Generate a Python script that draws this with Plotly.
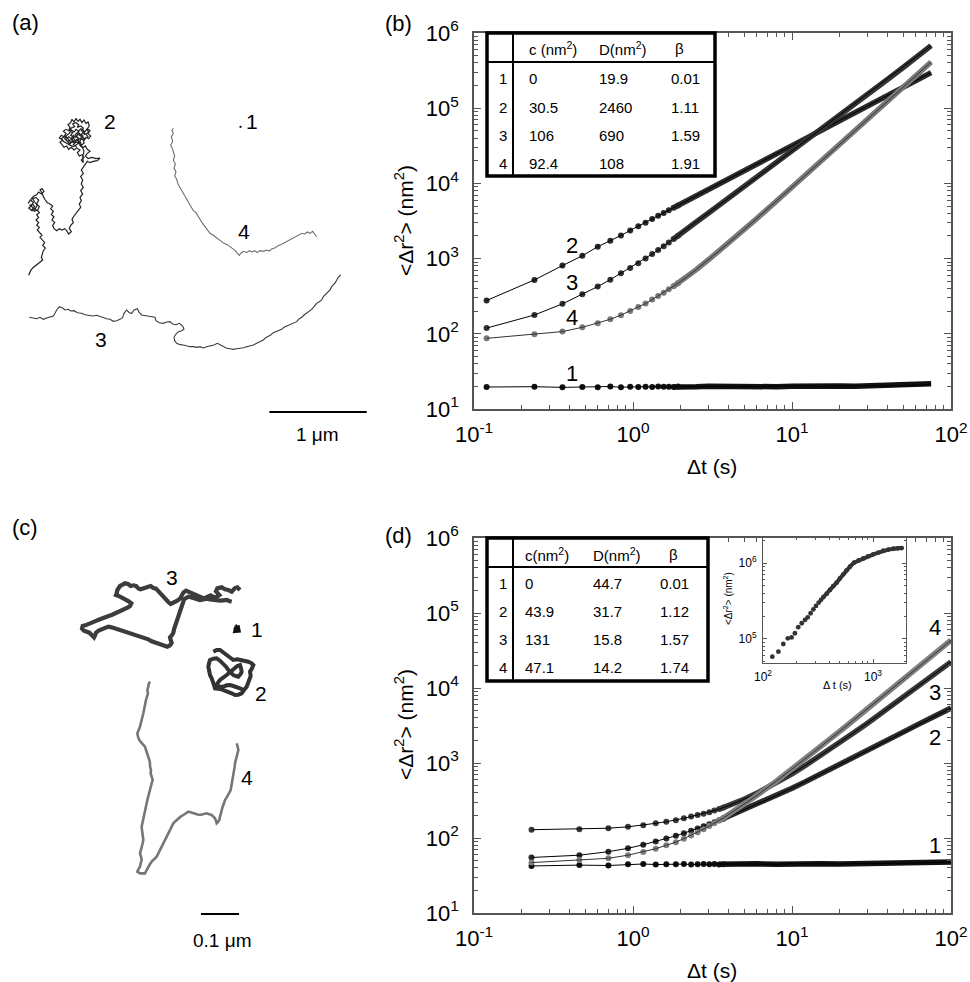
import plotly.graph_objects as go

W, H = 970, 982
FONT = "Liberation Sans, Arial, sans-serif"

# ---------------- panel (b) MSD data ----------------
B_T_SPARSE = [0.12, 0.24, 0.36, 0.48, 0.60, 0.72, 0.84, 0.96, 1.08, 1.20, 1.32, 1.44, 1.56, 1.68, 1.80, 1.92]
B_T_DENSE = [1.8, 2, 2.5, 3, 4, 5, 6, 8, 10, 12, 15, 20, 25, 30, 40, 50, 60, 70, 75]

B1_SPARSE = [19.6, 19.8, 19.4, 19.6, 19.5, 19.9, 19.5, 19.7, 19.6, 19.8, 19.6, 19.9, 19.7, 19.8, 19.6, 19.9]
B1_DENSE = [19.6, 19.9, 19.7, 20.0, 19.8, 19.9, 20.1, 19.8, 20.0, 20.2, 20.0, 20.3, 20.1, 20.4, 20.3, 20.6, 20.8, 21.0, 21.6]
B2_SPARSE = [277, 521, 807, 1090, 1440, 1730, 2030, 2370, 2690, 3000, 3360, 3700, 4050, 4400, 4740, 5100]
B2_DENSE = [4740, 5340, 6830, 8360, 11500, 14700, 18000, 24800, 31700, 38800, 49700, 68400, 87600, 107000, 148000, 189000, 232000, 275000, 297000]
B3_SPARSE = [119, 178, 250, 335, 425, 525, 640, 750, 870, 1000, 1150, 1300, 1460, 1640, 1820, 2010]
B3_DENSE = [1820, 2180, 3070, 4060, 6360, 9020, 12000, 18900, 27000, 36000, 51300, 80900, 115000, 154000, 243000, 347000, 464000, 600000, 680000]
B4_SPARSE = [87, 99, 107, 122, 138, 156, 177, 201, 228, 253, 285, 318, 352, 390, 430, 470]
B4_DENSE = [430, 498, 714, 973, 1617, 2428, 3401, 5824, 8870, 12520, 19130, 33090, 50620, 71600, 124000, 190000, 269000, 361000, 412000]

B_TABLE_COLS = ["c (nm<sup>2</sup>)", "D(nm<sup>2</sup>)", "β"]
B_TABLE_ROWS = [["1", "0", "19.9", "0.01"],
                ["2", "30.5", "2460", "1.11"],
                ["3", "106", "690", "1.59"],
                ["4", "92.4", "108", "1.91"]]

# ---------------- panel (d) MSD data ----------------
D_T_SPARSE = [0.23, 0.46, 0.70, 0.93, 1.16, 1.39, 1.62, 1.86, 2.09, 2.32, 2.55, 2.78, 3.02, 3.25, 3.48, 3.71]
D_T_DENSE = [3.5, 4, 5, 6, 8, 10, 12, 15, 20, 25, 30, 40, 50, 60, 75, 90, 100]

D1_SPARSE = [42.4, 43.5, 43.0, 44.6, 45.0, 44.3, 44.8, 44.5, 44.9, 44.2, 44.7, 45.0, 44.6, 44.9, 44.4, 44.8]
D1_DENSE = [44.8, 45.1, 44.6, 45.2, 44.5, 45.3, 45.0, 45.4, 45.1, 45.6, 45.3, 45.8, 46.0, 46.3, 46.8, 47.2, 48.0]
D2_SPARSE = [55, 59, 65.7, 72.8, 81.3, 89.7, 98.3, 107, 116, 125, 134, 143, 153, 162, 172, 181]
D2_DENSE = [172, 194, 236, 280, 369, 462, 556, 702, 952, 1210, 1474, 2019, 2579, 3153, 4035, 4940, 5400]
D3_SPARSE = [129, 131, 135, 141, 148, 157, 165, 173, 183, 193, 202, 211, 221, 232, 243, 255]
D3_DENSE = [243, 270, 329, 394, 545, 718, 913, 1241, 1874, 2605, 3425, 5307, 7478, 9919, 14011, 18617, 22300]
D4_SPARSE = [47, 51, 53.6, 59, 65, 72, 80, 88, 98, 108, 119, 131, 144, 157, 171, 186]
D4_DENSE = [171, 206, 281, 368, 576, 827, 1119, 1627, 2653, 3891, 5324, 8754, 12884, 17683, 26047, 35750, 43500]

D_TABLE_COLS = ["c(nm<sup>2</sup>)", "D(nm<sup>2</sup>)", "β"]
D_TABLE_ROWS = [["1", "0", "44.7", "0.01"],
                ["2", "43.9", "31.7", "1.12"],
                ["3", "131", "15.8", "1.57"],
                ["4", "47.1", "14.2", "1.74"]]

# inset of (d): long-time MSD
INSET_T = [121.6, 138, 153, 168, 182, 195, 209, 225, 241, 255, 271, 287, 303, 321, 337, 353, 380, 406,
           435, 467, 500, 537, 575, 618, 672, 740, 817, 900, 1007, 1120, 1241, 1380, 1531, 1680, 1823]
INSET_V = [58500, 68100, 85900, 102000, 105000, 119000, 143000, 161000, 178000, 193000, 218000, 246000,
           272000, 301000, 328000, 354000, 395000, 442000, 495000, 551000, 625000, 710000, 800000, 895000,
           1010000, 1080000, 1150000, 1220000, 1300000, 1370000, 1450000, 1500000, 1540000, 1560000, 1570000]

# tick labels
MAIN_X_TICKS = [0.1, 1, 10, 100]
MAIN_X_LABELS = ["10<sup>-1</sup>", "10<sup>0</sup>", "10<sup>1</sup>", "10<sup>2</sup>"]
MAIN_Y_TICKS = [10, 100, 1e3, 1e4, 1e5, 1e6]
MAIN_Y_LABELS = ["10<sup>1</sup>", "10<sup>2</sup>", "10<sup>3</sup>", "10<sup>4</sup>", "10<sup>5</sup>", "10<sup>6</sup>"]
INSET_X_TICKS = [100, 1000]
INSET_X_LABELS = ["10<sup>2</sup>", "10<sup>3</sup>"]
INSET_Y_TICKS = [1e5, 1e6]
INSET_Y_LABELS = ["10<sup>5</sup>", "10<sup>6</sup>"]
MINOR_DIGITS = [2, 3, 4, 5, 6, 7, 8, 9]

# ---------------- trajectories (image pixel positions, y downward) ----------------
NM_PER_PX_A = 1000 / 292.0   # panel (a) calibration
NM_PER_PX_C = 100 / 114.0    # panel (c) calibration
SCALEBAR_A_NM = 1000
SCALEBAR_C_NM = 100

A1 = [(720, 138), (722, 141), (721, 143), (723, 140), (721, 139)]
A2 = [(230, 200), (220, 194), (226, 186), (216, 180), (222, 172), (212, 166), (218, 158), (208, 152), (214, 144),
      (224, 140), (218, 132), (228, 128), (236, 134), (232, 142), (242, 138), (250, 144), (244, 152), (254, 156),
      (260, 148), (266, 156), (258, 162), (264, 170), (254, 176), (246, 170), (240, 178), (232, 172), (226, 164),
      (234, 156), (240, 162), (248, 166), (252, 190), (244, 196), (236, 190), (228, 194), (220, 200), (210, 196),
      (198, 190), (190, 184), (184, 176), (196, 168), (204, 176), (212, 188), (222, 184), (232, 188), (240, 184),
      (246, 200), (252, 214), (248, 230),
      (250, 248), (244, 240), (252, 232), (246, 224), (238, 228), (232, 218), (240, 210), (230, 204), (222, 210),
      (214, 202), (206, 208), (200, 198), (192, 202), (186, 194), (180, 186), (188, 180), (178, 174), (184, 166),
      (192, 170), (198, 160), (190, 154), (198, 148), (206, 152), (210, 142), (204, 134), (212, 128), (216, 118),
      (222, 126), (228, 116), (234, 124), (240, 118), (246, 128), (252, 120), (258, 130), (264, 126), (268, 138),
      (262, 146), (270, 152), (264, 160), (272, 168), (266, 176), (258, 172), (252, 182), (244, 176), (238, 186),
      (230, 180), (224, 190), (216, 184), (210, 192), (204, 186), (198, 178), (206, 170), (214, 176), (220, 166),
      (228, 172), (234, 162), (242, 168), (248, 158), (256, 164), (250, 150), (242, 146), (236, 154), (228, 148),
      (222, 156), (214, 150), (208, 160), (200, 166), (194, 176), (202, 184), (212, 180), (220, 174), (226, 182),
      (234, 176), (240, 196), (248, 204), (256, 198), (262, 208), (270, 214), (262, 220), (256, 228), (264, 236),
      (276, 232), (288, 236), (300, 234), (292, 242), (280, 244), (270, 248), (262, 244), (256, 252), (250, 262),
      (244, 270), (250, 280), (242, 290), (248, 300), (244, 312), (250, 322), (242, 332), (248, 342), (240, 352),
      (244, 362), (238, 372), (242, 382), (234, 392), (228, 398), (222, 408), (216, 418), (220, 428), (212, 436),
      (208, 446), (214, 455), (206, 462), (200, 452), (194, 446), (186, 450), (178, 446), (170, 452), (162, 446),
      (158, 436), (164, 428), (156, 420), (162, 410), (154, 404), (160, 394), (152, 386), (158, 378), (150, 372),
      (142, 368), (136, 360), (130, 350), (126, 338), (120, 330), (126, 326), (132, 334), (124, 342), (116, 336),
      (110, 344), (102, 348), (96, 354), (90, 362), (84, 370), (92, 360), (100, 368), (94, 378), (86, 384),
      (96, 392), (106, 386), (112, 376), (104, 366), (98, 356), (108, 352), (116, 360), (110, 372), (118, 380),
      (112, 392), (90, 376), (98, 372), (104, 380), (96, 388),
      (104, 394), (112, 390), (118, 398), (110, 404), (116, 412), (108, 420), (116, 428), (110, 436), (118, 442),
      (112, 450), (120, 458), (126, 466), (120, 472), (128, 480), (134, 488), (128, 496), (136, 504), (130, 512),
      (128, 522), (124, 532), (128, 540), (120, 546), (112, 552), (104, 558), (98, 564), (92, 572), (88, 580),
      (86, 586)]
A3 = [(88, 712), (98, 714), (110, 716), (120, 712), (130, 718), (140, 714), (150, 712), (160, 708), (165, 700),
      (170, 690), (178, 680), (188, 684), (195, 690), (205, 688), (212, 693), (222, 692), (232, 698), (245, 700),
      (255, 704), (265, 705), (278, 708), (290, 706), (300, 710), (310, 712), (320, 716), (330, 718), (340, 724),
      (350, 722), (360, 718), (368, 712), (372, 700), (380, 690), (388, 698), (395, 700), (402, 690), (412, 686),
      (418, 698), (425, 705), (435, 706), (445, 708), (455, 710), (465, 712), (468, 722), (478, 728), (490, 730),
      (500, 726), (510, 725), (518, 732), (528, 734), (538, 730), (548, 738), (552, 748), (545, 752), (535, 755),
      (528, 762), (522, 772), (524, 782), (530, 790), (540, 794), (550, 795), (560, 798), (570, 800), (580, 800),
      (590, 802), (600, 800), (610, 804), (620, 800), (632, 798), (642, 795), (652, 790), (660, 795), (670, 800),
      (680, 805), (690, 806), (700, 808), (710, 806), (720, 805), (730, 803), (740, 800), (750, 798), (760, 795),
      (770, 790), (780, 785), (790, 780), (797, 773), (805, 770), (812, 765), (820, 758), (828, 755), (835, 750),
      (845, 748), (852, 742), (862, 738), (870, 735), (880, 730), (890, 725), (898, 716), (905, 712), (912, 705),
      (920, 700), (928, 694), (935, 688), (942, 680), (950, 670), (958, 665), (965, 660), (970, 650), (975, 645),
      (984, 638), (990, 630), (995, 620), (1000, 615), (1006, 608), (1010, 600), (1015, 592), (1022, 585)]
A4 = [(520, 145), (516, 152), (520, 160), (514, 170), (518, 185), (512, 195), (517, 205), (520, 215), (524, 228),
      (520, 240), (526, 252), (522, 265), (528, 275), (524, 288), (530, 298), (534, 312), (540, 322), (546, 336),
      (552, 345), (556, 352), (563, 362), (568, 372), (575, 380), (580, 392), (588, 398), (594, 410), (600, 418),
      (606, 428), (612, 436), (618, 445), (624, 452), (630, 460), (640, 466), (648, 472), (656, 478), (664, 484),
      (672, 490), (682, 494), (690, 500), (698, 506), (706, 512), (712, 520), (718, 526), (724, 518), (732, 514),
      (740, 518), (748, 512), (756, 516), (764, 512), (772, 518), (780, 512), (790, 514), (800, 510), (808, 513),
      (816, 506), (826, 503), (834, 497), (842, 494), (850, 490), (858, 486), (866, 480), (874, 478), (882, 474),
      (890, 468), (898, 464), (906, 460), (914, 462), (922, 456), (930, 460), (938, 454), (944, 462), (950, 470)]

C1 = [(524, 384), (534, 382), (536, 392), (526, 393), (528, 386), (533, 389), (529, 383), (525, 390), (531, 387)]
C2 = [(460, 455), (470, 450), (480, 450), (490, 458), (500, 465), (510, 472), (520, 480), (532, 478), (545, 480),
      (555, 482), (565, 485), (575, 490), (580, 495), (576, 505), (570, 515), (572, 528), (568, 540), (564, 550),
      (560, 560), (552, 570), (545, 580), (535, 584), (525, 585), (515, 580), (505, 575), (495, 572), (485, 568),
      (475, 566), (465, 565), (462, 555), (460, 545), (455, 535), (450, 525), (446, 512), (445, 500), (447, 490),
      (450, 480), (460, 476), (470, 475), (480, 482), (490, 490), (498, 500), (505, 510), (512, 518), (520, 525),
      (528, 528), (535, 530), (542, 522), (545, 515), (543, 505), (540, 495), (532, 498), (525, 505), (515, 512),
      (500, 525), (490, 532), (480, 540), (474, 548), (470, 555), (480, 560), (490, 560), (500, 556), (510, 555),
      (520, 558), (530, 560), (540, 565), (550, 570)]
C3 = [(540, 270), (532, 262), (525, 264), (515, 275), (505, 270), (495, 268), (485, 262), (472, 265), (468, 274),
      (478, 285), (470, 290), (462, 292), (452, 286), (445, 290), (435, 294), (428, 294), (418, 290), (410, 286),
      (400, 282), (395, 280), (385, 274), (378, 272), (370, 278), (366, 286), (360, 296), (352, 302), (346, 306),
      (338, 310), (332, 312), (325, 306), (320, 300), (312, 294), (306, 288), (300, 280), (294, 272), (288, 266),
      (280, 264), (272, 258), (265, 260), (258, 262), (250, 264), (242, 268), (236, 266), (228, 258), (220, 256),
      (212, 258), (204, 252), (195, 250), (188, 254), (180, 258), (176, 264), (172, 270), (170, 280), (168, 285),
      (176, 288), (185, 292), (192, 298), (198, 300), (206, 304), (214, 310), (210, 318), (204, 322), (196, 326),
      (190, 330), (180, 334), (172, 336), (164, 340), (155, 345), (146, 348), (138, 352), (128, 356), (120, 358),
      (110, 362), (102, 366), (94, 370), (85, 372), (76, 376), (68, 378), (66, 386), (72, 392), (80, 396), (88, 398),
      (96, 406), (102, 412), (106, 404), (108, 398), (116, 392), (125, 388), (135, 384), (145, 380), (155, 382),
      (165, 385), (175, 388), (185, 392), (195, 396), (205, 398), (215, 402), (225, 405), (235, 408), (245, 412),
      (255, 415), (265, 418), (275, 424), (285, 428), (295, 432), (305, 435), (314, 438), (322, 440), (330, 436),
      (335, 428), (332, 420), (330, 412), (336, 405), (340, 398), (342, 388), (345, 380), (348, 372), (350, 362),
      (354, 354), (358, 345), (360, 336), (362, 328), (366, 320), (368, 312), (370, 305), (372, 298), (378, 294),
      (385, 290), (392, 292), (400, 295), (410, 297), (420, 300), (430, 298), (440, 296), (450, 298), (460, 300),
      (470, 301), (480, 302), (490, 301), (500, 300), (508, 303), (515, 305)]
C4 = [(270, 545), (266, 552), (265, 560), (262, 570), (264, 580), (260, 590), (258, 600), (256, 610), (255, 620),
      (252, 630), (250, 640), (248, 650), (245, 660), (243, 670), (240, 680), (236, 690), (232, 700), (234, 710),
      (238, 720), (246, 730), (255, 740), (258, 750), (262, 760), (265, 770), (268, 780), (270, 790), (270, 800),
      (273, 810), (272, 820), (275, 830), (278, 840), (275, 850), (272, 860), (270, 870), (268, 880), (265, 890),
      (262, 900), (260, 910), (258, 920), (256, 930), (255, 940), (252, 950), (250, 960), (247, 970), (245, 980),
      (246, 990), (248, 1000), (249, 1010), (250, 1020), (248, 1030), (245, 1040), (242, 1050), (240, 1060),
      (243, 1070), (245, 1080), (242, 1090), (240, 1100), (235, 1108), (232, 1115), (240, 1120), (255, 1120),
      (260, 1110), (265, 1100), (270, 1092), (275, 1085), (282, 1078), (290, 1070), (295, 1060), (300, 1050),
      (305, 1040), (310, 1030), (315, 1020), (320, 1010), (325, 1000), (330, 990), (335, 980), (340, 970),
      (348, 962), (355, 955), (362, 950), (370, 945), (378, 940), (385, 935), (392, 937), (400, 940), (410, 943),
      (420, 945), (430, 942), (440, 940), (448, 943), (455, 945), (460, 950), (465, 955), (468, 963), (470, 970),
      (474, 966), (478, 960), (480, 950), (482, 940), (485, 930), (488, 920), (492, 910), (495, 900), (500, 892),
      (505, 885), (508, 878), (512, 870), (514, 860), (515, 850), (518, 840), (520, 830), (521, 820), (522, 810),
      (524, 800), (525, 790), (528, 780), (530, 770), (532, 760), (535, 750), (533, 740), (530, 730)]


def px(x):
    return x / W


def py(y):
    return 1 - y / H


fig = go.Figure()


def traj(points, axes, color, width):
    xs = [p[0] for p in points]
    ys = [p[1] for p in points]
    fig.add_trace(go.Scatter(x=xs, y=ys, mode="lines", xaxis=axes[0], yaxis=axes[1],
                             line=dict(color=color, width=width), hoverinfo="skip", showlegend=False))


# panel (a)
traj(A1, ("x", "y"), "#222", 1.5)
traj(A2, ("x", "y"), "#222", 1.2)
traj(A3, ("x", "y"), "#3a3a3a", 1.1)
traj(A4, ("x", "y"), "#6e6e6e", 1.1)
bar_a_x0 = 808
fig.add_trace(go.Scatter(x=[bar_a_x0, bar_a_x0 + SCALEBAR_A_NM / NM_PER_PX_A], y=[996, 996], mode="lines",
                         xaxis="x", yaxis="y", line=dict(color="black", width=2), showlegend=False,
                         hoverinfo="skip"))

# panel (c)
traj(C1, ("x3", "y3"), "#111", 4)
traj(C2, ("x3", "y3"), "#333", 4)
traj(C3, ("x3", "y3"), "#3c3c3c", 4.2)
traj(C4, ("x3", "y3"), "#767676", 2.6)
bar_c_x0 = 423
fig.add_trace(go.Scatter(x=[bar_c_x0, bar_c_x0 + SCALEBAR_C_NM / NM_PER_PX_C], y=[1242, 1242], mode="lines",
                         xaxis="x3", yaxis="y3", line=dict(color="black", width=2), showlegend=False,
                         hoverinfo="skip"))


def msd(ts, vs, td, vd, axes, color, fitcolor, msize=6, lw=5.5):
    fig.add_trace(go.Scatter(x=td, y=vd, mode="lines", xaxis=axes[0], yaxis=axes[1],
                             line=dict(color=color, width=lw), showlegend=False, hoverinfo="skip"))
    fig.add_trace(go.Scatter(x=ts, y=vs, mode="markers", xaxis=axes[0], yaxis=axes[1],
                             marker=dict(color=color, size=msize), showlegend=False, hoverinfo="skip"))
    pairs = sorted(zip(list(ts) + list(td), list(vs) + list(vd)))
    fig.add_trace(go.Scatter(x=[p[0] for p in pairs], y=[p[1] for p in pairs], mode="lines",
                             xaxis=axes[0], yaxis=axes[1], line=dict(color=fitcolor, width=1),
                             showlegend=False, hoverinfo="skip"))


msd(B_T_SPARSE, B1_SPARSE, B_T_DENSE, B1_DENSE, ("x2", "y2"), "#111", "#000")
msd(B_T_SPARSE, B2_SPARSE, B_T_DENSE, B2_DENSE, ("x2", "y2"), "#2b2b2b", "#000")
msd(B_T_SPARSE, B3_SPARSE, B_T_DENSE, B3_DENSE, ("x2", "y2"), "#333", "#000")
msd(B_T_SPARSE, B4_SPARSE, B_T_DENSE, B4_DENSE, ("x2", "y2"), "#7a7a7a", "#333")

msd(D_T_SPARSE, D1_SPARSE, D_T_DENSE, D1_DENSE, ("x4", "y4"), "#111", "#000")
msd(D_T_SPARSE, D2_SPARSE, D_T_DENSE, D2_DENSE, ("x4", "y4"), "#2b2b2b", "#000")
msd(D_T_SPARSE, D3_SPARSE, D_T_DENSE, D3_DENSE, ("x4", "y4"), "#3a3a3a", "#000")
msd(D_T_SPARSE, D4_SPARSE, D_T_DENSE, D4_DENSE, ("x4", "y4"), "#808080", "#333")

# inset
fig.add_trace(go.Scatter(x=INSET_T[15:], y=INSET_V[15:], mode="lines", xaxis="x5", yaxis="y5",
                         line=dict(color="#333", width=4), showlegend=False, hoverinfo="skip"))
fig.add_trace(go.Scatter(x=INSET_T, y=INSET_V, mode="markers", xaxis="x5", yaxis="y5",
                         marker=dict(color="#333", size=4.8), showlegend=False, hoverinfo="skip"))

# ---------------- axes ----------------
hidden = dict(visible=False, showgrid=False, zeroline=False, automargin=False)


def minor_vals(e0, e1):
    return [d * 10 ** e for e in range(e0, e1) for d in MINOR_DIGITS]


def log_axis(tv, tt, mv, size, ticklen, minorlen, lw, standoff):
    return dict(type="log", showgrid=False, zeroline=False, showline=True, linecolor="#555",
                linewidth=lw, mirror="ticks", ticks="inside", ticklen=ticklen, tickwidth=1.1,
                tickcolor="#555", tickvals=tv, ticktext=tt, automargin=False,
                ticklabelstandoff=standoff,
                tickfont=dict(family=FONT, size=size, color="black"),
                minor=dict(ticks="inside", ticklen=minorlen, tickwidth=0.9, tickcolor="#555",
                           tickvals=mv, showgrid=False))


fig.update_layout(
    template="none",
    width=W, height=H, margin=dict(l=0, r=0, t=0, b=0, pad=0), autosize=False,
    paper_bgcolor="white", plot_bgcolor="white", showlegend=False,
    font=dict(family=FONT, color="black"),
    xaxis=dict(domain=[px(0), px(380)], range=[0, 1140], **hidden),
    yaxis=dict(domain=[py(460), py(80)], range=[1140, 0], **hidden),
    xaxis3=dict(domain=[px(60), px(320)], range=[0, 780], **hidden),
    yaxis3=dict(domain=[py(960), py(500)], range=[1380, 0], **hidden),
    xaxis2=dict(domain=[px(474), px(951)], range=[-1, 2], anchor="y2",
                **log_axis(MAIN_X_TICKS, MAIN_X_LABELS, minor_vals(-1, 2), 22, 7, 4, 1.5, 5)),
    yaxis2=dict(domain=[py(409), py(33)], range=[1, 6], anchor="x2",
                **log_axis(MAIN_Y_TICKS, MAIN_Y_LABELS, minor_vals(1, 6), 22, 7, 4, 1.5, 9)),
    xaxis4=dict(domain=[px(474), px(951)], range=[-1, 2], anchor="y4",
                **log_axis(MAIN_X_TICKS, MAIN_X_LABELS, minor_vals(-1, 2), 22, 7, 4, 1.5, 5)),
    yaxis4=dict(domain=[py(913), py(538)], range=[1, 6], anchor="x4",
                **log_axis(MAIN_Y_TICKS, MAIN_Y_LABELS, minor_vals(1, 6), 22, 7, 4, 1.5, 9)),
    xaxis5=dict(domain=[px(763), px(906)], range=[2, 3.3], anchor="y5",
                **log_axis(INSET_X_TICKS, INSET_X_LABELS, minor_vals(2, 4), 12, 4, 2, 1, 3)),
    yaxis5=dict(domain=[py(663), py(538)], range=[4.684, 6.329], anchor="x5",
                **log_axis(INSET_Y_TICKS, INSET_Y_LABELS, minor_vals(4, 7), 12, 4, 2, 1, 3)),
)

ann = []
shapes = []


def text(x, y, s, size, anchor="center", angle=0, color="black"):
    ann.append(dict(x=px(x), y=py(y), xref="paper", yref="paper", text=s, showarrow=False,
                    xanchor=anchor, yanchor="middle", textangle=angle,
                    font=dict(family=FONT, size=size, color=color)))


# panel labels
text(25, 22, "(a)", 22)
text(398, 24, "(b)", 22)
text(25, 527, "(c)", 22)
text(398, 535, "(d)", 22)

# trajectory labels
text(110, 121, "2", 21)
text(252, 121, "1", 21)
text(244, 232, "4", 21)
text(101, 339, "3", 21)
text(317, 434, "1 μm", 19)
text(172, 577, "3", 21)
text(257, 629, "1", 21)
text(261, 693, "2", 21)
text(247, 777, "4", 21)
text(222, 940, "0.1 μm", 19)

# MSD curve labels
for lab, yy in zip(["2", "3", "4", "1"], [245, 283, 318, 373]):
    text(572, yy, lab, 22)
for lab, yy in zip(["4", "3", "2", "1"], [627, 692, 737, 845]):
    text(935, yy, lab, 22)

# axis titles
ytitle = "&lt;Δr<sup>2</sup>&gt; (nm<sup>2</sup>)"
text(404, 221, ytitle, 21, angle=-90)
text(712, 466, "Δt (s)", 21)
text(404, 725, ytitle, 21, angle=-90)
text(712, 970, "Δt (s)", 21)
# inset titles
text(728, 599, ytitle, 10, angle=-90)
text(837, 685, "Δ t (s)", 11)


def table(x0, x1, y0, y1, xdiv, yhead, cols, rows, colx, valx, hy, rys):
    shapes.append(dict(type="rect", xref="paper", yref="paper", x0=px(x0), x1=px(x1), y0=py(y0), y1=py(y1),
                       fillcolor="white", line=dict(color="black", width=3.5), layer="above"))
    shapes.append(dict(type="line", xref="paper", yref="paper", x0=px(xdiv), x1=px(xdiv), y0=py(y0), y1=py(y1),
                       line=dict(color="black", width=2), layer="above"))
    shapes.append(dict(type="line", xref="paper", yref="paper", x0=px(x0), x1=px(x1), y0=py(yhead),
                       y1=py(yhead), line=dict(color="black", width=2), layer="above"))
    for c, cx in zip(cols, colx):
        text(cx, hy, c, 15, anchor="left")
    for r, ry in zip(rows, rys):
        text((x0 + xdiv) / 2 + 3, ry, r[0], 15)
        for v, vx in zip(r[1:], valx):
            text(vx, ry, v, 15, anchor="left")


table(487, 715, 33, 176, 513, 62, B_TABLE_COLS, B_TABLE_ROWS,
      [527, 597, 673], [527, 597, 669], 49, [78, 107, 135, 163])
table(487, 708, 538, 681, 513, 567, D_TABLE_COLS, D_TABLE_ROWS,
      [523, 591, 667], [523, 591, 658], 554, [583, 611, 639, 667])

fig.update_layout(annotations=ann, shapes=shapes)

fig.write_html("out.html", config={"displayModeBar": False},
               post_script="document.body.style.margin='0px';document.body.style.overflow='hidden';")
